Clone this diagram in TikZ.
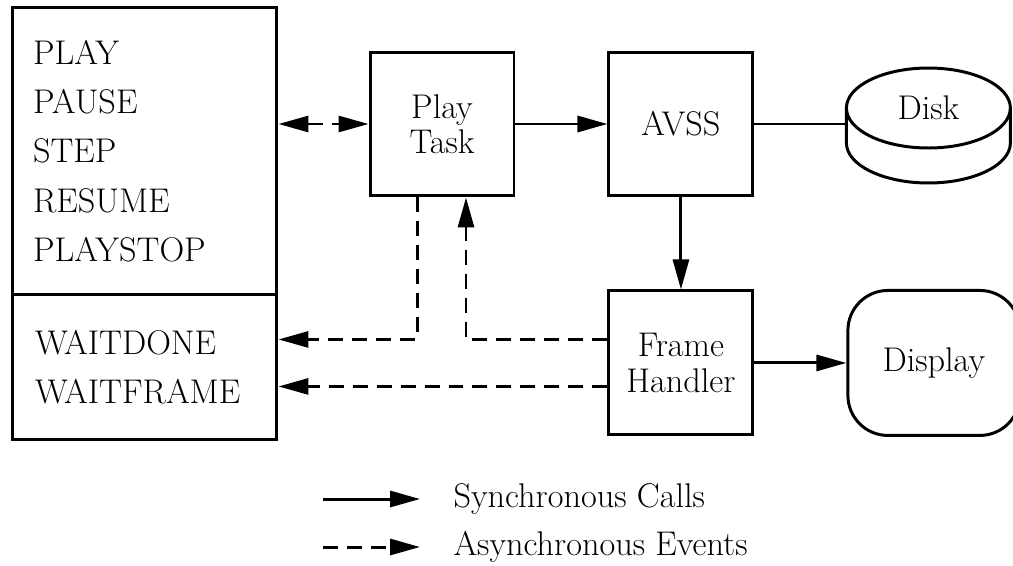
\documentclass[tikz,border=0pt]{standalone}
\usepackage{tikz}
\usetikzlibrary{positioning,arrows.meta,calc,shapes.geometric}

\begin{document}
\begin{tikzpicture}[x=0.02cm,y=-0.02cm,>={Triangle[length=6mm,width=3.2mm]},
  line width=1.7pt,node distance=1.84cm,
  every node/.style={font=\fontsize{19.5}{20}\selectfont},
  blk/.style={draw,minimum width=2.88cm,minimum height=2.88cm,align=center},
  lst/.style={draw,text width=4.46cm,inner xsep=0.42cm,align=left,font=\fontsize{19.5}{28}\selectfont},
  async/.style={dash pattern=on 3mm off 1.8mm}]
\useasboundingbox (0,0) rectangle (1013,565);
\node (cmds) [lst,minimum height=5.76cm] at (144.5,151) {PLAY\\PAUSE\\STEP\\RESUME\\PLAYSTOP};
\node (waits) [lst,minimum height=2.9cm,inner xsep=0.46cm,text width=4.38cm,below=-1.7pt of cmds] {WAITDONE\\WAITFRAME};
\node (task) [blk] at (442,124) {Play\\Task};
\node (avss) [blk,right=of task] {AVSS};
\node (frame) [blk,below=of avss] {Frame\\Handler};
\node (disk) [ellipse,draw,minimum width=3.28cm,minimum height=1.6cm,inner sep=0pt,outer sep=0pt,right=of avss,yshift=0.32cm] {Disk};
\node (display) [draw,rounded corners=0.8cm,minimum width=3.44cm,minimum height=2.9cm,right=of frame] {Display};
\node (sync) [anchor=west,inner sep=0pt] at (452,499) {Synchronous Calls};
\node (async) [anchor=west,inner sep=0pt] at (452,547) {Asynchronous Events};
% disk body
\draw (disk.west) -- ++(0,-0.7cm) arc[start angle=180,end angle=360,x radius=1.64cm,y radius=0.8cm] -- (disk.east);
% calls
\draw[->] (task) -- (avss);
\draw (avss) -- (avss -| disk.west);
\draw[->] (avss) -- (frame);
\draw[->] (frame) -- (display);
% events
\coordinate (dn) at ($(frame.west)+(0,0.47cm)$);
\coordinate (fr) at ($(frame.west)+(0,-0.47cm)$);
\draw[async,<->] (cmds.east |- task) -- (task);
\draw[async,->] ([xshift=-0.5cm]task.south) |- (waits.east |- dn);
\draw[async,->] (dn) -| ([xshift=0.48cm]task.south);
\draw[async,->] (fr) -- (waits.east |- fr);
% legend
\draw[->] ([xshift=-2.58cm]sync.west) -- ([xshift=-0.64cm]sync.west);
\draw[async,->] ([xshift=-2.58cm]async.west) -- ([xshift=-0.64cm]async.west);
\end{tikzpicture}
\end{document}
